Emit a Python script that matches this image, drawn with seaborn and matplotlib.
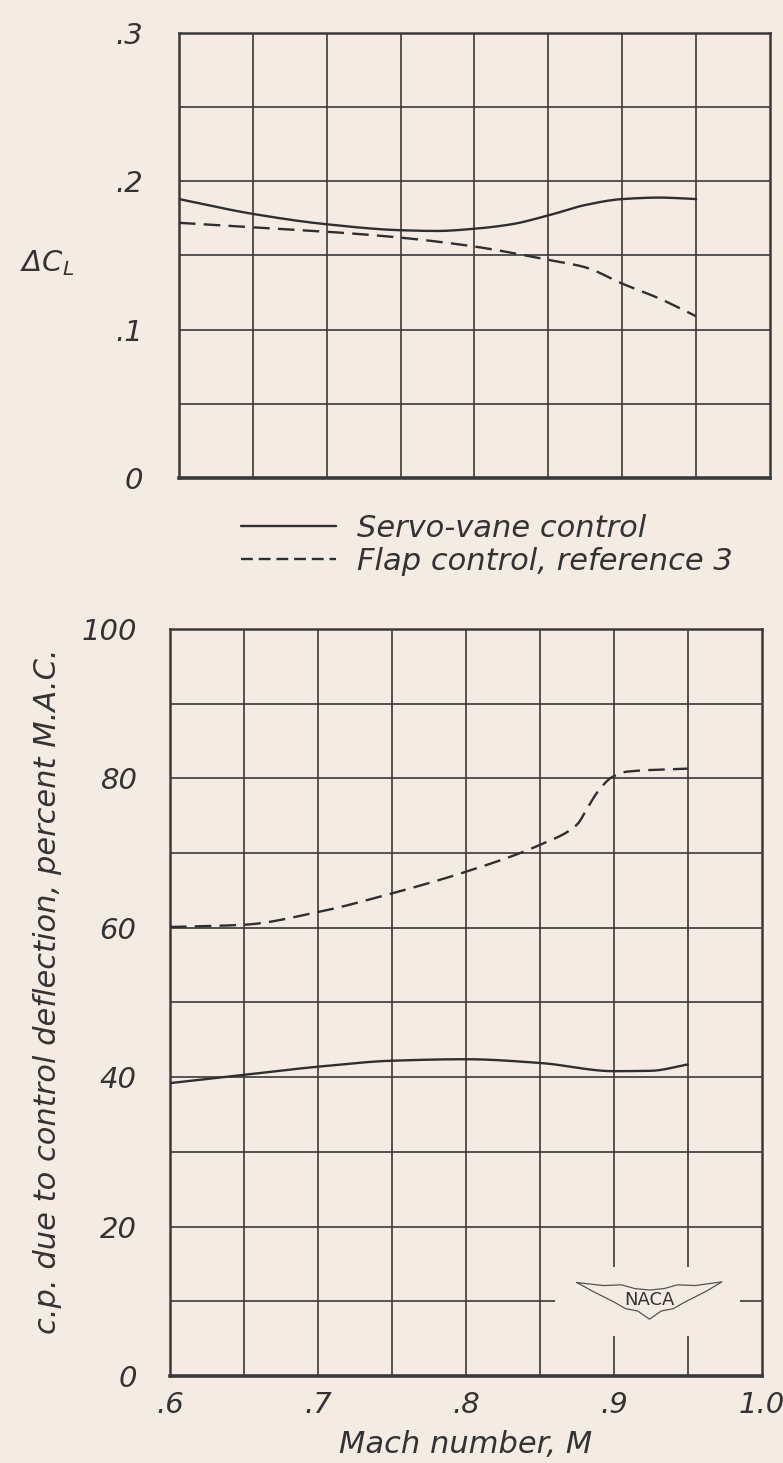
import matplotlib
matplotlib.use("Agg")
import matplotlib.pyplot as plt
import numpy as np
import pandas as pd
import seaborn as sns
from matplotlib.lines import Line2D
from matplotlib.patches import Rectangle

# Lift increment due to control deflection
mach_servo_cl = [0.600, 0.650, 0.700, 0.750, 0.775, 0.800, 0.825, 0.850, 0.875, 0.900, 0.925, 0.950]
dcl_servo = [0.188, 0.178, 0.171, 0.167, 0.1665, 0.168, 0.171, 0.177, 0.184, 0.188, 0.189, 0.188]
mach_flap_cl = [0.600, 0.650, 0.700, 0.750, 0.800, 0.850, 0.875, 0.900, 0.925, 0.950]
dcl_flap = [0.172, 0.169, 0.166, 0.162, 0.156, 0.147, 0.142, 0.131, 0.121, 0.109]

# Center of pressure due to control deflection, percent M.A.C.
mach_servo_cp = [0.600, 0.650, 0.700, 0.750, 0.800, 0.850, 0.900, 0.925, 0.950]
cp_servo = [39.2, 40.3, 41.4, 42.2, 42.4, 41.9, 40.8, 40.85, 41.7]
mach_flap_cp = [0.600, 0.650, 0.700, 0.750, 0.800, 0.850, 0.875, 0.882, 0.889, 0.899, 0.909, 0.950]
cp_flap = [60.1, 60.4, 62.1, 64.6, 67.5, 71.1, 73.8, 76.0, 78.2, 80.2, 80.9, 81.3]

x_ticks = [0.6, 0.7, 0.8, 0.9, 1.0]
x_tick_labels = [".6", ".7", ".8", ".9", "1.0"]
cl_ticks = [0.0, 0.1, 0.2, 0.3]
cl_tick_labels = ["0", ".1", ".2", ".3"]
cp_ticks = [0, 20, 40, 60, 80, 100]
cp_tick_labels = ["0", "20", "40", "60", "80", "100"]

servo_name = "Servo-vane control"
flap_name = "Flap control, reference 3"

paper = "#f4ebe2"
ink = "#2f2f2f"
grid_ink = "#3a3a3a"
text_ink = "#333333"

sns.set_theme(style="white")
plt.rcParams["font.family"] = ["DejaVu Sans"]
plt.rcParams["font.style"] = "italic"
plt.rcParams["mathtext.fontset"] = "dejavusans"

fig = plt.figure(figsize=(7.83, 14.63), dpi=100, facecolor=paper)
ax1 = fig.add_axes([0.2286, 0.6733, 0.7548, 0.3042])
ax2 = fig.add_axes([0.2171, 0.0595, 0.7560, 0.5106])

cl_df = pd.concat([
    pd.DataFrame({"M": mach_servo_cl, "v": dcl_servo, "s": servo_name}),
    pd.DataFrame({"M": mach_flap_cl, "v": dcl_flap, "s": flap_name}),
])
cp_df = pd.concat([
    pd.DataFrame({"M": mach_servo_cp, "v": cp_servo, "s": servo_name}),
    pd.DataFrame({"M": mach_flap_cp, "v": cp_flap, "s": flap_name}),
])


def smooth(df):
    """Fair each curve through its points with a monotone cubic (PCHIP)."""
    out = []
    for name, g in df.groupby("s", sort=False):
        x = np.asarray(g["M"], float)
        y = np.asarray(g["v"], float)
        xs = np.linspace(x[0], x[-1], 200)
        h = np.diff(x)
        d = np.diff(y) / h
        m = np.zeros_like(y)
        m[0], m[-1] = d[0], d[-1]
        for i in range(1, len(y) - 1):
            if d[i - 1] * d[i] > 0:
                w1 = 2 * h[i] + h[i - 1]
                w2 = h[i] + 2 * h[i - 1]
                m[i] = (w1 + w2) / (w1 / d[i - 1] + w2 / d[i])
        idx = np.clip(np.searchsorted(x, xs) - 1, 0, len(x) - 2)
        t = (xs - x[idx]) / h[idx]
        h00 = 2 * t**3 - 3 * t**2 + 1
        h10 = t**3 - 2 * t**2 + t
        h01 = -2 * t**3 + 3 * t**2
        h11 = t**3 - t**2
        ys = h00 * y[idx] + h10 * h[idx] * m[idx] + h01 * y[idx + 1] + h11 * h[idx] * m[idx + 1]
        out.append(pd.DataFrame({"M": xs, "v": ys, "s": name}))
    return pd.concat(out)


styles = {servo_name: "", flap_name: (7, 3.5)}
palette = {servo_name: ink, flap_name: ink}

for ax, df, ymax, ystep in [(ax1, cl_df, 0.3, 0.05), (ax2, cp_df, 100, 10)]:
    ax.set_facecolor(paper)
    ax.set_xlim(0.6, 1.0)
    ax.set_ylim(0, ymax)
    for gx in np.arange(0.65, 1.0, 0.05):
        ax.axvline(gx, color=grid_ink, lw=1.2, zorder=1)
    for gy in np.arange(ystep, ymax, ystep):
        ax.axhline(gy, color=grid_ink, lw=1.2, zorder=1)
    sns.lineplot(data=smooth(df), x="M", y="v", hue="s", style="s",
                 dashes=styles, palette=palette, linewidth=1.7,
                 legend=False, ax=ax, zorder=3, sort=False, estimator=None)
    for sp in ax.spines.values():
        sp.set_color(grid_ink)
        sp.set_linewidth(1.8)
    ax.spines["bottom"].set_linewidth(2.6)
    ax.tick_params(axis="both", length=0, labelsize=21, colors=text_ink)

ax1.set_xticks(x_ticks)
ax1.set_xticklabels([])
ax1.set_yticks(cl_ticks)
ax1.set_yticklabels(cl_tick_labels)
ax1.tick_params(axis="y", pad=26)
ax1.set_xlabel("")
ax1.set_ylabel(r"$\Delta C_L$", rotation=0, fontsize=21, color=text_ink)
ax1.yaxis.set_label_coords(-0.223, 0.45)

ax2.set_xticks(x_ticks)
ax2.set_xticklabels(x_tick_labels)
ax2.set_yticks(cp_ticks)
ax2.set_yticklabels(cp_tick_labels)
ax2.tick_params(axis="y", pad=24)
ax2.tick_params(axis="x", pad=11)
ax2.set_xlabel("Mach number, M", fontsize=22, color=text_ink, labelpad=8)
ax2.set_ylabel("c.p. due to control deflection, percent M.A.C.",
               fontsize=22, color=text_ink)
ax2.yaxis.set_label_coords(-0.183, 0.515)

# NACA emblem in the lower right of the grid, with the grid cleared round it
ax2.add_patch(Rectangle((0.86, 5.4), 0.125, 9.2, facecolor=paper,
                        edgecolor="none", zorder=2))
wing_x = [0.875, 0.893, 0.905, 0.914, 0.924, 0.934, 0.943, 0.955, 0.973,
          0.962, 0.955, 0.948, 0.940, 0.932, 0.924, 0.916, 0.908, 0.900,
          0.893, 0.886, 0.875]
wing_y = [12.5, 12.1, 12.2, 11.7, 11.5, 11.7, 12.2, 12.1, 12.6,
          11.3, 10.6, 9.9, 9.0, 8.7, 7.6, 8.7, 9.0, 9.9,
          10.6, 11.3, 12.5]
ax2.plot(wing_x, wing_y, color="#555555", lw=0.9, zorder=3)
ax2.text(0.924, 10.2, "NACA", ha="center", va="center", fontsize=13,
         style="normal", color=text_ink, zorder=4)

legend_handles = [
    Line2D([], [], color=ink, lw=1.7),
    Line2D([], [], color=ink, lw=1.7, dashes=(5, 2.5)),
]
fig.legend(legend_handles, [servo_name, flap_name], loc="upper left",
           bbox_to_anchor=(0.273, 0.6675), frameon=False, fontsize=22,
           handlelength=3.1, handletextpad=0.7, labelspacing=0.12,
           labelcolor=text_ink)

fig.savefig("out.png", dpi=100, facecolor=paper)
